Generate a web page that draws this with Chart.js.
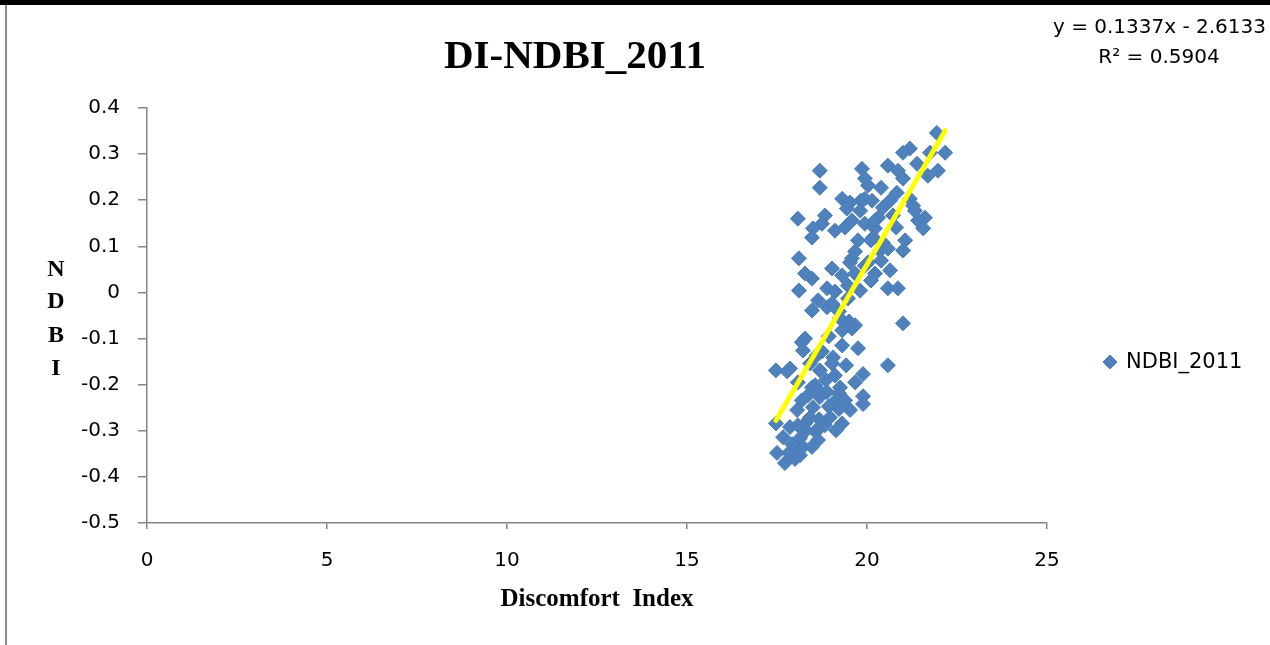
<!DOCTYPE html>
<html>
<head>
<meta charset="utf-8">
<script src="https://cdn.jsdelivr.net/npm/chart.js@4/dist/chart.umd.min.js"></script>
<style>
  html, body { margin: 0; padding: 0; background: #fff; }
  #wrap { width: 1270px; height: 645px; }
</style>
</head>
<body>
<div id="wrap"><canvas id="diChart" width="1270" height="645"></canvas></div>
<script>
// Discomfort Index vs NDBI, 2011
const diValues = [
  21.94, 22.17, 21.75, 21.19, 21.00, 20.58, 20.86, 21.00, 21.39, 21.69,
  21.97, 19.86, 19.94, 20.03, 20.39, 20.83, 19.83, 20.64, 21.19, 21.28,
  20.44, 20.31, 19.94, 20.22, 21.33, 21.42, 21.61, 21.56, 20.81, 18.69,
  18.69, 19.31, 19.53, 19.81, 19.44, 18.08, 18.83, 18.75, 18.50, 18.47,
  19.11, 19.39, 19.58, 20.22, 20.17, 20.11, 20.44, 20.58, 21.00, 20.36,
  20.39, 19.94, 20.22, 20.11, 20.58, 20.86, 20.03, 19.67, 19.58, 19.67,
  19.03, 19.31, 18.11, 18.28, 18.47, 18.11, 18.89, 19.11, 19.47, 18.89,
  19.03, 19.22, 18.47, 19.50, 19.67, 19.31, 21.00, 18.94, 18.28, 18.19,
  19.31, 19.75, 18.75, 19.06, 18.42, 19.03, 20.58, 19.89, 17.47, 17.86,
  18.08, 18.47, 19.25, 18.89, 19.89, 19.89, 18.19, 18.69, 19.06, 18.50,
  19.22, 18.42, 18.97, 19.31, 17.47, 17.86, 18.69, 18.28, 17.67, 18.14,
  18.56, 18.22, 17.94, 17.50, 17.83, 17.72, 18.00, 17.92, 18.67, 18.94,
  18.75, 19.22, 17.78, 19.58, 18.36, 18.56, 18.86, 19.39, 18.83, 18.31,
  18.06, 19.53, 19.14, 18.64, 18.08, 18.47, 18.14, 18.69, 19.11, 19.42,
  19.67, 18.61, 18.22, 19.25, 18.64, 19.47, 19.81, 19.75, 19.53, 20.72,
  21.06, 20.64, 19.94, 20.14
];
const ndbiValues = [
  0.346, 0.303, 0.303, 0.312, 0.303, 0.275, 0.264, 0.247, 0.279, 0.253,
  0.264, 0.268, 0.247, 0.232, 0.227, 0.216, 0.199, 0.199, 0.203, 0.188,
  0.184, 0.162, 0.149, 0.139, 0.177, 0.156, 0.162, 0.139, 0.141, 0.264,
  0.227, 0.203, 0.195, 0.177, 0.182, 0.160, 0.167, 0.149, 0.139, 0.119,
  0.134, 0.141, 0.156, 0.156, 0.119, 0.113, 0.108, 0.095, 0.091, 0.091,
  0.069, 0.058, 0.041, 0.026, 0.009, 0.009, 0.065, 0.089, 0.074, 0.041,
  0.052, 0.037, 0.074, 0.041, 0.030, 0.004, 0.009, 0.002, -0.013, -0.032,
  -0.024, -0.041, -0.039, -0.063, -0.071, -0.082, -0.067, -0.095, -0.100, -0.108,
  -0.115, -0.121, -0.128, -0.141, -0.154, -0.154, -0.158, -0.177, -0.169, -0.165,
  -0.195, -0.206, -0.206, -0.216, -0.225, -0.242, -0.234, -0.227, -0.240, -0.249,
  -0.253, -0.271, -0.271, -0.284, -0.284, -0.292, -0.294, -0.284, -0.314, -0.316,
  -0.301, -0.335, -0.342, -0.348, -0.348, -0.370, -0.361, -0.329, -0.275, -0.247,
  -0.219, -0.219, -0.171, -0.078, -0.223, -0.201, -0.190, -0.234, -0.288, -0.299,
  -0.255, -0.255, -0.299, -0.320, -0.288, -0.335, -0.353, -0.169, -0.180, -0.158,
  -0.195, -0.136, -0.126, -0.056, -0.017, 0.015, 0.004, 0.113, 0.065, 0.167,
  0.113, 0.048, 0.203, 0.199
];

// linear trendline as printed on the chart
const trendSlope = 0.1337;
const trendIntercept = -2.6133;
const trendLabel = ["y = 0.1337x - 2.6133", "R\u00b2 = 0.5904"];

const xTicks = [0, 5, 10, 15, 20, 25];
const yTicks = [-0.5, -0.4, -0.3, -0.2, -0.1, 0, 0.1, 0.2, 0.3, 0.4];

const seriesName = "NDBI_2011";
const pointBlue = "#4F81BD";
const axisGray = "#868686";
const tickFont = { family: "DejaVu Sans", size: 20 };

const points = diValues.map((x, i) => ({ x: x, y: ndbiValues[i] }));
const xMin = Math.min(...diValues);
const xMax = Math.max(...diValues);
const trendPoints = [
  { x: xMin, y: trendSlope * xMin + trendIntercept },
  { x: xMax, y: trendSlope * xMax + trendIntercept }
];

/* extra text, frame and legend drawn on the canvas */
const decorPlugin = {
  id: "decor",
  afterDraw(chart) {
    const ctx = chart.ctx;
    ctx.save();

    // frame
    ctx.fillStyle = "#000";
    ctx.fillRect(0, 0, 1270, 5);
    ctx.strokeStyle = "#8c8c8c";
    ctx.lineWidth = 2;
    ctx.beginPath();
    ctx.moveTo(6, 5);
    ctx.lineTo(6, 645);
    ctx.stroke();

    // title
    ctx.fillStyle = "#000";
    ctx.textAlign = "center";
    ctx.textBaseline = "alphabetic";
    ctx.font = "bold 41px 'Liberation Serif'";
    ctx.fillText("DI-NDBI_2011", 575, 68);

    // trendline equation
    ctx.font = "20px 'DejaVu Sans'";
    ctx.textAlign = "right";
    ctx.textBaseline = "middle";
    ctx.fillText(trendLabel[0], 1266, 28);
    ctx.textAlign = "center";
    ctx.fillText(trendLabel[1], 1159, 58);

    // stacked y axis title
    ctx.font = "bold 24px 'Liberation Serif'";
    const letters = ["N", "D", "B", "I"];
    const rows = [270, 302, 336, 369];
    letters.forEach((ch, i) => ctx.fillText(ch, 56, rows[i]));

    // legend
    const ds = chart.data.datasets[1];
    ctx.fillStyle = ds.backgroundColor;
    ctx.strokeStyle = ds.borderColor;
    ctx.lineWidth = 1;
    Chart.helpers.drawPoint(ctx, { pointStyle: "rectRot", radius: 7, borderWidth: 1 }, 1110, 362);
    ctx.fillStyle = "#000";
    ctx.font = "21px 'DejaVu Sans'";
    ctx.textAlign = "left";
    ctx.fillText(ds.label, 1126, 363);

    ctx.restore();
  }
};

new Chart(document.getElementById("diChart"), {
  type: "scatter",
  data: {
    datasets: [
      {
        type: "line",
        label: "Linear (" + seriesName + ")",
        data: trendPoints,
        borderColor: "#FFFF00",
        borderWidth: 5,
        borderCapStyle: "round",
        pointRadius: 0,
        fill: false,
        order: 0
      },
      {
        label: seriesName,
        data: points,
        backgroundColor: pointBlue,
        borderColor: "#4A7EBB",
        borderWidth: 1,
        pointStyle: "rectRot",
        pointRadius: 7.5,
        order: 1
      }
    ]
  },
  options: {
    responsive: false,
    animation: false,
    devicePixelRatio: 1,
    layout: { padding: { left: 0, right: 223, top: 108, bottom: 0 } },
    plugins: {
      legend: { display: false },
      title: { display: false },
      tooltip: { enabled: false }
    },
    scales: {
      x: {
        type: "linear",
        min: xTicks[0],
        max: xTicks[xTicks.length - 1],
        afterBuildTicks: s => { s.ticks = xTicks.map(v => ({ value: v })); },
        afterFit: s => { s.height = 122; },
        border: { display: true, color: axisGray, width: 1.5 },
        grid: { display: true, drawOnChartArea: false, drawTicks: true, tickLength: 6, color: axisGray, lineWidth: 1.5 },
        ticks: { font: tickFont, color: "#000", padding: 20, maxRotation: 0 },
        title: {
          display: true,
          text: "Discomfort  Index",
          font: { family: "Liberation Serif", size: 25, weight: "bold" },
          color: "#000",
          padding: { top: 0, bottom: 30 }
        }
      },
      y: {
        type: "linear",
        min: yTicks[0],
        max: yTicks[yTicks.length - 1],
        afterBuildTicks: s => { s.ticks = yTicks.map(v => ({ value: v })); },
        afterFit: s => { s.width = 147; },
        border: { display: true, color: axisGray, width: 1.5 },
        grid: { display: true, drawOnChartArea: false, drawTicks: true, tickLength: 9, color: axisGray, lineWidth: 1.5 },
        ticks: {
          font: tickFont,
          color: "#000",
          padding: 18,
          callback: v => String(Math.round(v * 10) / 10)
        }
      }
    }
  },
  plugins: [decorPlugin]
});
</script>
</body>
</html>
